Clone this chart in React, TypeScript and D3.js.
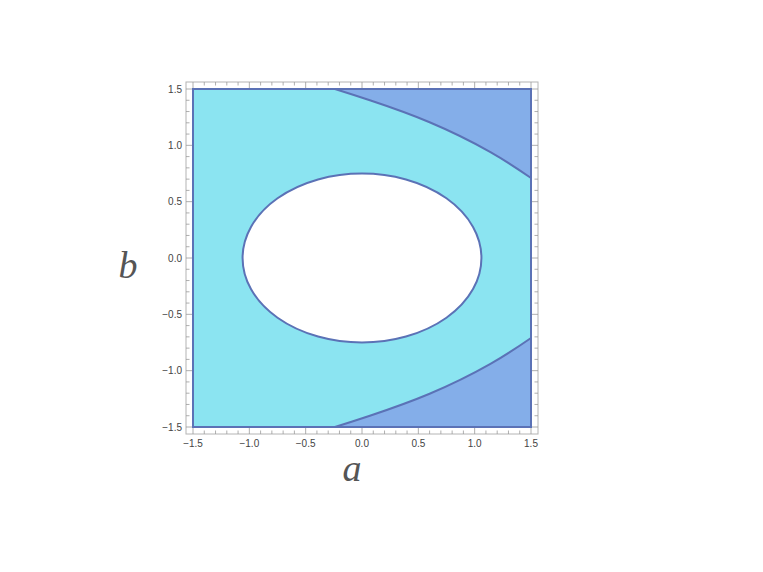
import React from "react";
import * as d3 from "d3";

// tick positions (both axes)
const majorTicks = [-1.5, -1.0, -0.5, 0.0, 0.5, 1.0, 1.5];
const minorTicks = d3.range(-15, 16).map((i) => i / 10);

// inner (excluded) ellipse: centre and radii in data units
const ellipseCenter = [0, 0];
const ellipseRadii = [1.06, 0.75];

// boundary of the darker region
const upperCurveA = [-0.24, 0.07, 0.6, 1.14, 1.5];
const upperCurveB = [1.5, 1.4, 1.205, 0.94, 0.71];
const lowerCurveA = [-0.24, 0.07, 0.6, 1.14, 1.5];
const lowerCurveB = [-1.5, -1.4, -1.205, -0.94, -0.71];

const W = 763;
const H = 572;

export default function App() {
  const x = d3.scaleLinear().domain([-1.5, 1.5]).range([193, 531]);
  const y = d3.scaleLinear().domain([-1.5, 1.5]).range([427, 89]);

  const frame = { x0: 186, x1: 538, y0: 82, y1: 434 };

  const cyan = "#8be4f1";
  const dark = "#84aee9";
  const edge = "#5b72b6";
  const tickCol = "#9a9a9a";

  const line = d3
    .line<[number, number]>()
    .x((d) => x(d[0]))
    .y((d) => y(d[1]))
    .curve(d3.curveNatural);

  const upperPts: [number, number][] = upperCurveA.map((a, i) => [a, upperCurveB[i]]);
  const lowerPts: [number, number][] = lowerCurveA.map((a, i) => [a, lowerCurveB[i]]);

  const upperCurve = line(upperPts) || "";
  const lowerCurve = line(lowerPts) || "";
  const upperRegion = upperCurve + `L${x(1.5)},${y(1.5)}Z`;
  const lowerRegion = lowerCurve + `L${x(1.5)},${y(-1.5)}Z`;

  const isMajor = (v: number) => majorTicks.some((m) => Math.abs(m - v) < 1e-9);

  const ex = x(ellipseCenter[0]);
  const ey = y(ellipseCenter[1]);
  const erx = x(ellipseRadii[0]) - x(0);
  const ery = y(0) - y(ellipseRadii[1]);

  const fmt = (v: number) => (v < 0 ? "\u2212" + Math.abs(v).toFixed(1) : v.toFixed(1));

  return (
    <svg
      width={W}
      height={H}
      style={{ position: "absolute", left: 0, top: 0, background: "#fff" }}
    >
      {/* region 1: square minus the ellipse */}
      <rect
        x={x(-1.5)}
        y={y(1.5)}
        width={x(1.5) - x(-1.5)}
        height={y(-1.5) - y(1.5)}
        fill={cyan}
      />
      <ellipse cx={ex} cy={ey} rx={erx} ry={ery} fill="#fff" />

      {/* region 2 */}
      <path d={upperRegion} fill={dark} />
      <path d={lowerRegion} fill={dark} />

      {/* boundaries */}
      <rect
        x={x(-1.5)}
        y={y(1.5)}
        width={x(1.5) - x(-1.5)}
        height={y(-1.5) - y(1.5)}
        fill="none"
        stroke={edge}
        strokeWidth={2}
      />
      <ellipse cx={ex} cy={ey} rx={erx} ry={ery} fill="none" stroke={edge} strokeWidth={2} />
      <path d={upperCurve} fill="none" stroke={edge} strokeWidth={2} />
      <path d={lowerCurve} fill="none" stroke={edge} strokeWidth={2} />

      {/* frame */}
      <rect
        x={frame.x0}
        y={frame.y0}
        width={frame.x1 - frame.x0}
        height={frame.y1 - frame.y0}
        fill="none"
        stroke="#b4b4b4"
        strokeWidth={1}
      />

      {/* ticks on all four sides */}
      {minorTicks.map((v) => {
        const len = isMajor(v) ? 6 : 3.5;
        const px = x(v);
        const py = y(v);
        return (
          <g key={v} stroke={tickCol} strokeWidth={0.8}>
            <line x1={px} x2={px} y1={frame.y1} y2={frame.y1 - len} />
            <line x1={px} x2={px} y1={frame.y0} y2={frame.y0 + len} />
            <line x1={frame.x0} x2={frame.x0 + len} y1={py} y2={py} />
            <line x1={frame.x1} x2={frame.x1 - len} y1={py} y2={py} />
          </g>
        );
      })}

      {/* tick labels */}
      <g fontFamily="Liberation Sans, Arial, sans-serif" fontSize={10} fill="#444">
        {majorTicks.map((v) => (
          <text key={"x" + v} x={x(v)} y={frame.y1 + 13} textAnchor="middle">
            {fmt(v)}
          </text>
        ))}
        {majorTicks.map((v) => (
          <text key={"y" + v} x={frame.x0 - 4} y={y(v) + 3.5} textAnchor="end">
            {fmt(v)}
          </text>
        ))}
      </g>

      {/* axis labels */}
      <text
        x={352}
        y={481}
        textAnchor="middle"
        fontFamily="Liberation Serif, Times New Roman, serif"
        fontStyle="italic"
        fontSize={38}
        fill="#555"
      >
        a
      </text>
      <text
        x={128}
        y={278}
        textAnchor="middle"
        fontFamily="Liberation Serif, Times New Roman, serif"
        fontStyle="italic"
        fontSize={38}
        fill="#555"
      >
        b
      </text>
    </svg>
  );
}
